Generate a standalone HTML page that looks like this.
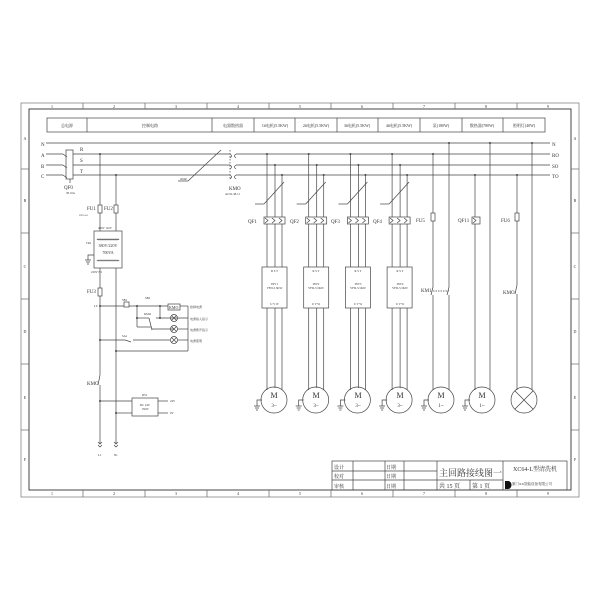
<!DOCTYPE html>
<html><head><meta charset="utf-8"><style>
body{margin:0;background:#fff}
svg{display:block}
text{font-family:"Liberation Serif","Noto Serif CJK SC","Noto Sans CJK SC",serif;fill:#333}
.s{font-size:4px}
.m{font-size:5px}
.l{font-size:8px}
</style></head><body>
<svg width="600" height="600" viewBox="0 0 600 600" xmlns="http://www.w3.org/2000/svg" stroke="#444" stroke-width="0.7" fill="none">
<!-- frames -->
<rect x="21" y="103" width="558" height="394" stroke="#777"/>
<rect x="29" y="109" width="542" height="381" stroke="#333" stroke-width="0.9"/>
<g stroke="#666">
<line x1="83" y1="103" x2="83" y2="109"/><line x1="145" y1="103" x2="145" y2="109"/><line x1="207" y1="103" x2="207" y2="109"/><line x1="269" y1="103" x2="269" y2="109"/><line x1="331" y1="103" x2="331" y2="109"/><line x1="393" y1="103" x2="393" y2="109"/><line x1="455" y1="103" x2="455" y2="109"/><line x1="517" y1="103" x2="517" y2="109"/>
<line x1="83" y1="490" x2="83" y2="497"/><line x1="145" y1="490" x2="145" y2="497"/><line x1="207" y1="490" x2="207" y2="497"/><line x1="269" y1="490" x2="269" y2="497"/><line x1="331" y1="490" x2="331" y2="497"/><line x1="393" y1="490" x2="393" y2="497"/><line x1="455" y1="490" x2="455" y2="497"/><line x1="517" y1="490" x2="517" y2="497"/>
<line x1="21" y1="169" x2="29" y2="169"/><line x1="21" y1="233" x2="29" y2="233"/><line x1="21" y1="299" x2="29" y2="299"/><line x1="21" y1="364" x2="29" y2="364"/><line x1="21" y1="430" x2="29" y2="430"/>
<line x1="571" y1="169" x2="579" y2="169"/><line x1="571" y1="233" x2="579" y2="233"/><line x1="571" y1="299" x2="579" y2="299"/><line x1="571" y1="364" x2="579" y2="364"/><line x1="571" y1="430" x2="579" y2="430"/>
</g>
<g class="s" stroke="none" text-anchor="middle">
<text x="52" y="108">1</text><text x="114" y="108">2</text><text x="176" y="108">3</text><text x="238" y="108">4</text><text x="300" y="108">5</text><text x="362" y="108">6</text><text x="424" y="108">7</text><text x="486" y="108">8</text><text x="548" y="108">9</text>
<text x="52" y="495">1</text><text x="114" y="495">2</text><text x="176" y="495">3</text><text x="238" y="495">4</text><text x="300" y="495">5</text><text x="362" y="495">6</text><text x="424" y="495">7</text><text x="486" y="495">8</text><text x="548" y="495">9</text>
<text x="25" y="140">A</text><text x="25" y="202">B</text><text x="25" y="268">C</text><text x="25" y="333">D</text><text x="25" y="399">E</text><text x="25" y="461">F</text>
<text x="575" y="140">A</text><text x="575" y="202">B</text><text x="575" y="268">C</text><text x="575" y="333">D</text><text x="575" y="399">E</text><text x="575" y="461">F</text>
</g>
<!-- header table -->
<rect x="47" y="118" width="498" height="14"/>
<g><line x1="87" y1="118" x2="87" y2="132"/><line x1="212" y1="118" x2="212" y2="132"/><line x1="254" y1="118" x2="254" y2="132"/><line x1="295" y1="118" x2="295" y2="132"/><line x1="337" y1="118" x2="337" y2="132"/><line x1="378" y1="118" x2="378" y2="132"/><line x1="420" y1="118" x2="420" y2="132"/><line x1="462" y1="118" x2="462" y2="132"/><line x1="503" y1="118" x2="503" y2="132"/></g>
<g class="s" stroke="none" text-anchor="middle">
<text x="67" y="127">总电源</text><text x="150" y="127">控制电路</text><text x="233" y="127">电器散热器</text><text x="275" y="127">1#电机(5.5KW)</text><text x="316" y="127">2#电机(5.5KW)</text><text x="357" y="127">3#电机(5.5KW)</text><text x="399" y="127">4#电机(5.5KW)</text><text x="441" y="127">泵(180W)</text><text x="482" y="127">散热器(780W)</text><text x="524" y="127">照明灯(40W)</text>
</g>
<!-- bus lines -->
<g>
<line x1="46" y1="143" x2="550" y2="143"/>
<line x1="46" y1="154" x2="63" y2="154"/><line x1="46" y1="165" x2="63" y2="165"/><line x1="46" y1="175" x2="63" y2="175"/>
<line x1="78" y1="154" x2="230" y2="154"/><line x1="78" y1="165" x2="230" y2="165"/><line x1="78" y1="175" x2="230" y2="175"/>
<line x1="236" y1="154" x2="550" y2="154"/><line x1="236" y1="165" x2="550" y2="165"/><line x1="236" y1="175" x2="550" y2="175"/>
<path d="M230 154 q3 2 0 4 M236 154 q-3 2 0 4 M230 165 q3 2 0 4 M236 165 q-3 2 0 4 M230 175 q3 2 0 4 M236 175 q-3 2 0 4" />
<line x1="230" y1="150" x2="230" y2="180" stroke-dasharray="1.5,1.5"/>
<line x1="188" y1="181" x2="221" y2="150"/><line x1="178" y1="181" x2="188" y2="181"/>
<!-- QF0 -->
<rect x="66" y="150" width="7" height="29"/>
<path d="M63 154 l4 3 M63 165 l4 3 M63 175 l4 3 M73 154 h5 M73 165 h5 M73 175 h5"/>
<line x1="70" y1="179" x2="70" y2="183"/>
</g>
<g stroke="none">
<text x="41" y="146" class="m">N</text><text x="41" y="157" class="m">A</text><text x="41" y="168" class="m">B</text><text x="41" y="178" class="m">C</text>
<text x="80" y="151" class="m">R</text><text x="80" y="162" class="m">S</text><text x="80" y="173" class="m">T</text>
<text x="64" y="189" class="m">QF0</text><text x="66" y="194" style="font-size:3px">3P 10A</text>
<text x="229" y="190" class="m">KMO</text><text x="225" y="195" style="font-size:3px">AC02-38-11</text>
<text x="180" y="180" style="font-size:3px">2mm²</text>
<text x="552" y="146" class="m">N</text><text x="552" y="157" class="m">RO</text><text x="552" y="168" class="m">SO</text><text x="552" y="178" class="m">TO</text>
</g>
<!-- left control -->
<g>
<line x1="100" y1="154" x2="100" y2="205"/><line x1="116" y1="175" x2="116" y2="205"/>
<rect x="98" y="205" width="4" height="8"/><rect x="114" y="205" width="4" height="8"/>
<line x1="100" y1="213" x2="100" y2="231"/><line x1="116" y1="213" x2="116" y2="231"/>
<rect x="94" y="231" width="28" height="37"/>
<path d="M97 240 q1 -2 2 0 q1 -2 2 0 q1 -2 2 0 q1 -2 2 0 q1 -2 2 0 q1 -2 2 0 q1 -2 2 0 q1 -2 2 0 q1 -2 2 0 q1 -2 2 0 q1 -2 2 0 M97 260 q1 2 2 0 q1 2 2 0 q1 2 2 0 q1 2 2 0 q1 2 2 0 q1 2 2 0 q1 2 2 0 q1 2 2 0 q1 2 2 0 q1 2 2 0 q1 2 2 0"/>
<path d="M94 255 h-6 v5 M85 260 h6 M86 262 h4 M87 264 h2"/>
<line x1="100" y1="268" x2="100" y2="288"/><line x1="116" y1="268" x2="116" y2="444"/>
<rect x="98" y="288" width="4" height="8"/>
<line x1="100" y1="296" x2="100" y2="375"/><line x1="100" y1="385" x2="100" y2="444"/>
<line x1="100" y1="375" x2="98" y2="385"/>
<line x1="100" y1="306" x2="124" y2="306"/><rect x="124" y="302" width="5" height="5"/><line x1="129" y1="306" x2="168" y2="306"/>
<rect x="168" y="304" width="12" height="6"/><line x1="180" y1="306" x2="188" y2="306"/>
<line x1="137" y1="306" x2="137" y2="327"/><line x1="137" y1="318" x2="149" y2="318"/><line x1="137" y1="327" x2="151" y2="327"/><line x1="149" y1="318" x2="152" y2="330"/><line x1="152" y1="329" x2="174" y2="329"/>
<line x1="160" y1="306" x2="160" y2="318"/><line x1="156" y1="318" x2="188" y2="318"/>
<circle cx="174" cy="318" r="3.5"/><circle cx="174" cy="329" r="3.5"/><circle cx="174" cy="340" r="3.5"/>
<path d="M171.5 315.5 l5 5 M176.5 315.5 l-5 5 M171.5 326.5 l5 5 M176.5 326.5 l-5 5 M171.5 337.5 l5 5 M176.5 337.5 l-5 5"/>
<line x1="177.5" y1="329" x2="188" y2="329"/>
<line x1="100" y1="340" x2="125" y2="340"/><line x1="125" y1="340" x2="131" y2="342"/><line x1="133" y1="340" x2="170" y2="340"/><line x1="177.5" y1="340" x2="188" y2="340"/>
<line x1="188" y1="306" x2="188" y2="351"/><line x1="116" y1="351" x2="188" y2="351"/>
<rect x="132" y="398" width="26" height="18"/>
<line x1="100" y1="401" x2="132" y2="401"/><line x1="116" y1="413" x2="132" y2="413"/>
<line x1="158" y1="401" x2="168" y2="401"/><line x1="158" y1="413" x2="168" y2="413"/>
<path d="M98 442 l2 2 l2 -2 M98 445 l2 2 l2 -2 M114 442 l2 2 l2 -2 M114 445 l2 2 l2 -2"/>
</g>
<g fill="#444" stroke="none">
<circle cx="100" cy="154" r="1"/><circle cx="116" cy="175" r="1"/><circle cx="100" cy="306" r="1"/><circle cx="100" cy="340" r="1"/><circle cx="116" cy="351" r="1"/><circle cx="100" cy="401" r="1"/><circle cx="116" cy="413" r="1"/><circle cx="137" cy="306" r="1"/><circle cx="160" cy="306" r="1"/><circle cx="160" cy="318" r="1"/><circle cx="137" cy="318" r="1"/>
</g>
<g stroke="none">
<text x="87" y="210" class="m">FU1</text><text x="104" y="210" class="m">FU2</text>
<text x="79" y="216" style="font-size:2.5px">RT18 4A</text>
<text x="98" y="229" style="font-size:3px">400V  110V</text>
<text x="86" y="244" style="font-size:3px">TR1</text>
<text x="108" y="247" style="font-size:4px" text-anchor="middle">380V/220V</text>
<text x="108" y="254" style="font-size:4px" text-anchor="middle">700VA</text>
<text x="91" y="273" style="font-size:3px">220V  N1</text>
<text x="87" y="293" class="m">FU3</text>
<text x="94" y="307" style="font-size:3px">L0</text>
<text x="122" y="301" style="font-size:3px">SB1</text><text x="145" y="299" style="font-size:3px">SB2</text><text x="144" y="315" style="font-size:3px">KMO</text>
<text x="169" y="309" style="font-size:4px">KMO</text>
<text x="190" y="308" style="font-size:3px">控制电源</text><text x="190" y="320" style="font-size:3px">电源接入指示</text><text x="190" y="331" style="font-size:3px">电源断开指示</text><text x="190" y="342" style="font-size:3px">电源照明</text>
<text x="122" y="337" style="font-size:3px">SA1</text>
<text x="87" y="385" class="m">KMO</text>
<text x="142" y="396" style="font-size:3px">DS1</text>
<text x="145" y="406" style="font-size:3px" text-anchor="middle">DC 24V</text><text x="145" y="410" style="font-size:3px" text-anchor="middle">150W</text>
<text x="170" y="402" style="font-size:3px">24V</text><text x="170" y="414" style="font-size:3px">0V</text>
<text x="98" y="456" style="font-size:3px">L1</text><text x="114" y="456" style="font-size:3px">N1</text>
</g>
<!-- QF/inverter/motor columns -->
<g id="col">
<line x1="267" y1="154" x2="267" y2="217"/><line x1="275" y1="165" x2="275" y2="217"/><line x1="282" y1="175" x2="282" y2="217"/>
<line x1="264" y1="204" x2="284" y2="182"/><line x1="255" y1="204" x2="264" y2="204"/>
<rect x="264" y="217" width="21" height="7"/>
<path d="M265 218 l3 2.5 l-3 2.5 M272 218 l3 2.5 l-3 2.5 M279 218 l3 2.5 l-3 2.5"/>
<line x1="267" y1="224" x2="267" y2="267"/><line x1="275" y1="224" x2="275" y2="267"/><line x1="282" y1="224" x2="282" y2="267"/>
<rect x="262" y="267" width="25" height="41"/>
<line x1="267" y1="308" x2="267" y2="390"/><line x1="275" y1="308" x2="275" y2="388"/><line x1="282" y1="308" x2="282" y2="390"/>
<circle cx="274" cy="400" r="13"/>
<path d="M262 400 h-5 v6 M254 406 h6 M255 408 h4 M256 410 h2"/>
</g>
<use href="#col" x="41.7"/><use href="#col" x="83.4"/><use href="#col" x="125.1"/>
<g fill="#444" stroke="none">
<circle cx="267" cy="154" r="1"/><circle cx="275" cy="165" r="1"/><circle cx="282" cy="175" r="1"/>
<circle cx="308.7" cy="154" r="1"/><circle cx="316.7" cy="165" r="1"/><circle cx="323.7" cy="175" r="1"/>
<circle cx="350.4" cy="154" r="1"/><circle cx="358.4" cy="165" r="1"/><circle cx="365.4" cy="175" r="1"/>
<circle cx="392.1" cy="154" r="1"/><circle cx="400.1" cy="165" r="1"/><circle cx="407.1" cy="175" r="1"/>
<circle cx="433" cy="154" r="1"/><circle cx="449" cy="143" r="1"/><circle cx="475" cy="175" r="1"/><circle cx="490" cy="143" r="1"/><circle cx="517" cy="175" r="1"/><circle cx="532" cy="143" r="1"/>
</g>
<g stroke="none">
<text x="248" y="223" class="m">QF1</text><text x="290" y="223" class="m">QF2</text><text x="331" y="223" class="m">QF3</text><text x="373" y="223" class="m">QF4</text>
</g>
<g stroke="none" text-anchor="middle" style="font-size:3px">
<text x="274.5" y="272">R  S  T</text><text x="274.5" y="285">INV1</text><text x="274.5" y="289">VFD-5.5KW</text><text x="274.5" y="305">U  V  W</text>
<text x="316" y="272">R  S  T</text><text x="316" y="285">INV2</text><text x="316" y="289">VFD-5.5KW</text><text x="316" y="305">U  V  W</text>
<text x="358" y="272">R  S  T</text><text x="358" y="285">INV3</text><text x="358" y="289">VFD-5.5KW</text><text x="358" y="305">U  V  W</text>
<text x="400" y="272">R  S  T</text><text x="400" y="285">INV4</text><text x="400" y="289">VFD-5.5KW</text><text x="400" y="305">U  V  W</text>
</g>
<!-- single-phase columns -->
<g>
<line x1="433" y1="154" x2="433" y2="213"/><rect x="431" y="213" width="4" height="8"/><line x1="433" y1="221" x2="433" y2="287"/><line x1="433" y1="295" x2="433" y2="390"/><line x1="433" y1="287" x2="431" y2="295"/>
<line x1="449" y1="143" x2="449" y2="287"/><line x1="449" y1="295" x2="449" y2="390"/><line x1="449" y1="287" x2="447" y2="295"/>
<line x1="433" y1="291" x2="449" y2="291" stroke-dasharray="1.5,1"/>
<circle cx="441" cy="400" r="13"/>
<line x1="475" y1="175" x2="475" y2="217"/><rect x="472" y="217" width="8" height="7"/><path d="M473 218 l3 2.5 l-3 2.5"/><line x1="475" y1="224" x2="475" y2="390"/>
<line x1="490" y1="143" x2="490" y2="390"/>
<circle cx="482" cy="400" r="13"/>
<line x1="517" y1="175" x2="517" y2="213"/><rect x="515" y="213" width="4" height="8"/><line x1="517" y1="221" x2="517" y2="285"/><line x1="517" y1="294" x2="517" y2="390"/><line x1="517" y1="285" x2="515" y2="294"/>
<line x1="532" y1="143" x2="532" y2="390"/>
<circle cx="524" cy="400" r="13"/><path d="M514.8 390.8 l18.4 18.4 M533.2 390.8 l-18.4 18.4"/>
<path d="M429 400 h-5 v6 M421 406 h6 M422 408 h4 M423 410 h2 M470 400 h-5 v6 M462 406 h6 M463 408 h4 M464 410 h2"/>
</g>
<g stroke="none">
<text x="416" y="222" class="m">FU5</text><text x="458" y="222" class="m">QF11</text><text x="501" y="222" class="m">FU6</text>
<text x="421" y="292" class="m">KM1</text><text x="503" y="294" class="m">KMO</text>
</g>
<g stroke="none" text-anchor="middle">
<text x="274" y="398" class="l">M</text><text x="274" y="407" class="m">3~</text>
<text x="316" y="398" class="l">M</text><text x="316" y="407" class="m">3~</text>
<text x="358" y="398" class="l">M</text><text x="358" y="407" class="m">3~</text>
<text x="400" y="398" class="l">M</text><text x="400" y="407" class="m">3~</text>
<text x="441" y="398" class="l">M</text><text x="441" y="407" class="m">1~</text>
<text x="482" y="398" class="l">M</text><text x="482" y="407" class="m">1~</text>
</g>
<!-- title block -->
<g>
<rect x="332" y="461" width="235" height="29"/>
<line x1="332" y1="471" x2="437" y2="471"/><line x1="332" y1="480" x2="503" y2="480"/>
<line x1="353" y1="461" x2="353" y2="490"/><line x1="385" y1="461" x2="385" y2="490"/><line x1="404" y1="461" x2="404" y2="490"/><line x1="437" y1="461" x2="437" y2="490"/><line x1="503" y1="461" x2="503" y2="490"/><line x1="470" y1="480" x2="470" y2="490"/>
</g>
<g stroke="none">
<text x="334" y="469" class="m">设计</text><text x="334" y="478" class="m">校对</text><text x="334" y="488" class="m">审核</text>
<text x="386" y="469" class="m">日期</text><text x="386" y="478" class="m">日期</text><text x="386" y="488" class="m">日期</text>
<text x="439" y="476" style="font-size:9px">主回路接线图一</text>
<text x="439" y="488" style="font-size:6px">共 15 页</text><text x="472" y="488" style="font-size:6px">第 1 页</text>
<text x="535" y="471" style="font-size:6px" text-anchor="middle">XC64-L型清洗机</text>
<text x="512" y="485" style="font-size:3.5px">厦门XX智能设备有限公司</text>
</g>
<path d="M505 481 h3 a3.5 4 0 0 1 0 8 h-3 z" fill="#111" stroke="none"/>
</svg>
</body></html>
